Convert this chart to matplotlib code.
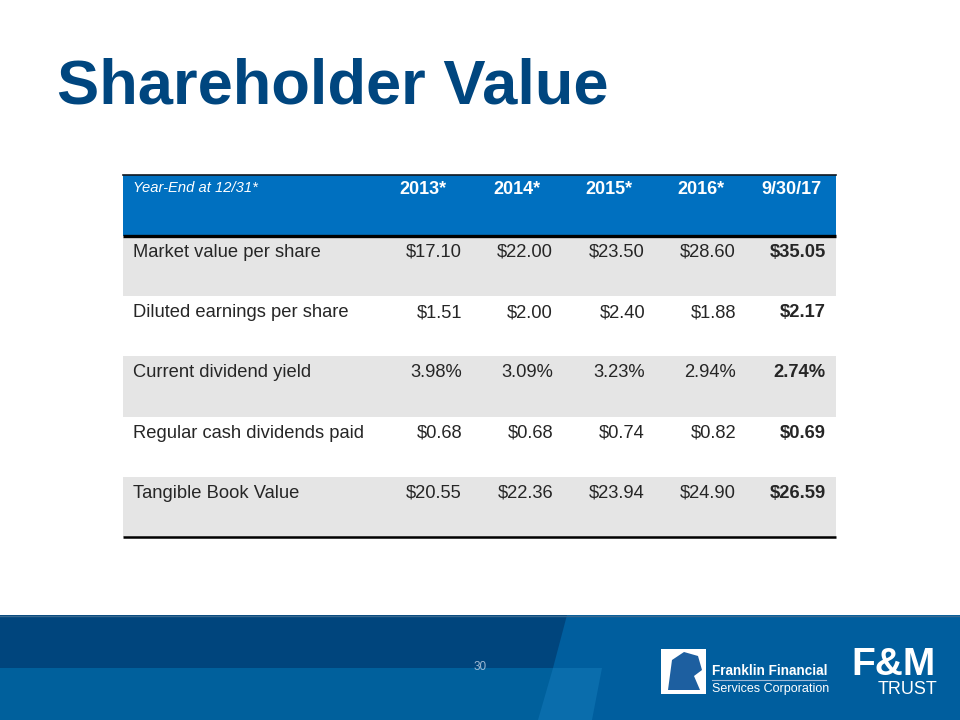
import matplotlib
matplotlib.use("Agg")
import matplotlib.pyplot as plt
from matplotlib.patches import Rectangle, Polygon

plt.rcParams['font.family'] = ['Liberation Sans', 'DejaVu Sans']

title = "Shareholder Value"
header_label = "Year-End at 12/31*"
periods = ["2013*", "2014*", "2015*", "2016*", "9/30/17"]
row_labels = ["Market value per share", "Diluted earnings per share",
              "Current dividend yield", "Regular cash dividends paid",
              "Tangible Book Value"]
market_value = [17.10, 22.00, 23.50, 28.60, 35.05]
diluted_eps = [1.51, 2.00, 2.40, 1.88, 2.17]
dividend_yield = [3.98, 3.09, 3.23, 2.94, 2.74]
cash_dividends = [0.68, 0.68, 0.74, 0.82, 0.69]
tangible_book = [20.55, 22.36, 23.94, 24.90, 26.59]
row_formats = ["${:.2f}", "${:.2f}", "{:.2f}%", "${:.2f}", "${:.2f}"]
page_number = "30"

fig = plt.figure(figsize=(9.6, 7.2), dpi=100)
ax = fig.add_axes([0, 0, 1, 1])
ax.set_xlim(0, 960)
ax.set_ylim(720, 0)
ax.axis('off')

# Title
ax.text(57, 87, title, fontsize=45.5, fontweight='bold', color='#00467F',
        va='center', ha='left')

# Table geometry
x0, x1 = 123, 836
hdr_top, hdr_bot = 175, 236
row_h = 60.2
col_right = [462, 553, 645, 736, 826]
hdr_right = [446, 541, 633, 724, 822]

ax.add_patch(Rectangle((x0, hdr_top), x1 - x0, hdr_bot - hdr_top,
                       facecolor='#0070C0', edgecolor='none'))
ax.plot([x0, x1], [hdr_top, hdr_top], color='#101820', lw=1.2)
ax.text(133, 188, header_label, fontsize=10.6, style='italic', color='white',
        va='center', ha='left')
for p, xr in zip(periods, hdr_right):
    ax.text(xr, 190, p, fontsize=13, fontweight='bold', color='white',
            va='center', ha='right')

rows = [market_value, diluted_eps, dividend_yield, cash_dividends, tangible_book]
for i, (lab, vals, fmt) in enumerate(zip(row_labels, rows, row_formats)):
    top = hdr_bot + i * row_h
    if i % 2 == 0:
        ax.add_patch(Rectangle((x0, top), x1 - x0, row_h,
                               facecolor='#E5E5E5', edgecolor='none'))
    ty = top + 16.5
    ax.text(133, ty, lab, fontsize=13.2, color='#262626', va='center', ha='left')
    for j, (v, xr) in enumerate(zip(vals, col_right)):
        ax.text(xr, ty, fmt.format(v), fontsize=13.2, color='#262626',
                va='center', ha='right',
                fontweight='bold' if j == len(vals) - 1 else 'normal')

bottom = hdr_bot + len(rows) * row_h
ax.plot([x0, x1], [hdr_bot, hdr_bot], color='black', lw=2.4, solid_capstyle='butt')
ax.plot([x0, x1], [bottom, bottom], color='black', lw=1.8, solid_capstyle='butt')

# Footer
ax.add_patch(Rectangle((0, 615), 960, 105, facecolor='#005E9E', edgecolor='none'))
ax.add_patch(Rectangle((0, 668), 560, 52, facecolor='#00609C', edgecolor='none'))
ax.add_patch(Polygon([(0, 615), (567, 615), (553, 668), (0, 668)],
                     closed=True, facecolor='#00457D', edgecolor='none'))
ax.add_patch(Polygon([(553, 668), (602, 668), (592, 720), (538, 720)],
                     closed=True, facecolor='#0A6DAC', edgecolor='none'))
ax.plot([0, 960], [615.5, 615.5], color='#3A6A90', lw=1)
ax.text(480, 667, page_number, fontsize=8.5, color='#9DB8D3', va='center', ha='center')

# Logos (approximate)
ax.add_patch(Rectangle((661, 649), 45, 45, facecolor='white', edgecolor='none'))
ax.add_patch(Polygon([(668, 690), (672, 660), (684, 652), (698, 656), (702, 670),
                      (694, 676), (700, 690)], closed=True,
                     facecolor='#1D5FA0', edgecolor='none'))
ax.text(712, 671, "Franklin Financial", fontsize=9.8, fontweight='bold',
        color='white', va='center', ha='left')
ax.plot([712, 826], [680, 680], color='#9FB9D6', lw=0.8)
ax.text(712, 689, "Services Corporation", fontsize=9, color='white',
        va='center', ha='left')
ax.text(894, 665, "F&M", fontsize=28, fontweight='bold', color='white',
        va='center', ha='center',
        family=['Liberation Sans Narrow', 'Liberation Sans'])
ax.text(908, 690, "TRUST", fontsize=13, color='white', va='center', ha='center',
        family=['Liberation Sans Narrow', 'Liberation Sans'])

fig.savefig("out.png", dpi=100)
